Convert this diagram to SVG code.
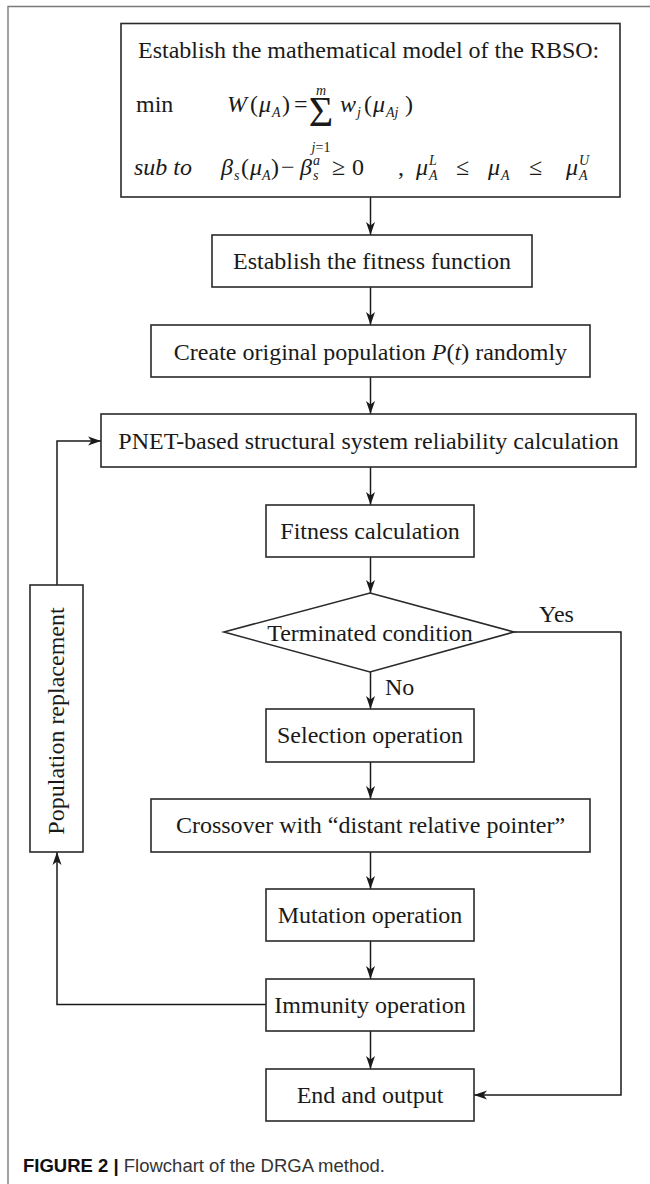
<svg xmlns="http://www.w3.org/2000/svg" width="650" height="1184" viewBox="0 0 650 1184">
  <defs>
    <marker id="arr" markerUnits="userSpaceOnUse" markerWidth="14" markerHeight="10" refX="13" refY="5" orient="auto">
      <path d="M0,0.5 L13,5 L0,9.5 L3.5,5 Z" fill="#1a1a1a"/>
    </marker>
  </defs>
  <style>
    .box { fill: #ffffff; stroke: #2a2a2a; stroke-width: 1.6; }
    .t { font-family: "Liberation Serif", "Times New Roman", serif; font-size: 24px; fill: #1a1a1a; }
    .c { text-anchor: middle; }
    .i { font-style: italic; }
    .s { font-size: 14px; }
    .conn { fill: none; stroke: #1a1a1a; stroke-width: 1.5; }
    .frame { fill: none; stroke: #7a7a7a; stroke-width: 1.4; }
    .cap { font-family: "Liberation Sans", Arial, sans-serif; font-size: 18.5px; }
  </style>
  <rect width="650" height="1184" fill="#ffffff"/>
  <path class="frame" d="M650,6.5 L8,6.5 L8,1184"/>

  <g id="connectors">
    <path class="conn" d="M370.5,197 L370.5,235" marker-end="url(#arr)"/>
    <path class="conn" d="M370.5,287 L370.5,325" marker-end="url(#arr)"/>
    <path class="conn" d="M370.5,377 L370.5,414" marker-end="url(#arr)"/>
    <path class="conn" d="M370.5,467 L370.5,505" marker-end="url(#arr)"/>
    <path class="conn" d="M370.5,557 L370.5,593" marker-end="url(#arr)"/>
    <path class="conn" d="M370.5,672 L370.5,709" marker-end="url(#arr)"/>
    <path class="conn" d="M370.5,762 L370.5,799" marker-end="url(#arr)"/>
    <path class="conn" d="M370.5,852 L370.5,889" marker-end="url(#arr)"/>
    <path class="conn" d="M370.5,941 L370.5,979" marker-end="url(#arr)"/>
    <path class="conn" d="M370.5,1031 L370.5,1069" marker-end="url(#arr)"/>
    <path class="conn" d="M514,632 L621,632 L621,1095 L474,1095" marker-end="url(#arr)"/>
    <path class="conn" d="M266,1004.5 L57,1004.5 L57,852" marker-end="url(#arr)"/>
    <path class="conn" d="M57,585 L57,441 L101,441" marker-end="url(#arr)"/>
    <text class="t" x="539" y="622">Yes</text>
    <text class="t" x="385" y="695">No</text>
  </g>

  <g id="model">
    <rect class="box" x="121" y="23.5" width="499" height="173.5"/>
    <text class="t" x="138" y="58">Establish the mathematical model of the RBSO:</text>
    <text class="t" x="136" y="112">min</text>
    <text class="t" y="112"><tspan class="i" x="227">W</tspan><tspan x="250">(</tspan><tspan class="i" x="259">μ</tspan><tspan class="i s" x="272" y="117">A</tspan><tspan x="282" y="112">)</tspan><tspan x="294">=</tspan></text>
    <text class="t c"><tspan x="321" y="126" style="font-size:42px">Σ</tspan><tspan class="i s" x="321" y="95">m</tspan><tspan class="s" x="321" y="152"><tspan class="i">j</tspan>=1</tspan></text>
    <text class="t" y="112"><tspan class="i" x="340">w</tspan><tspan class="i s" x="357" y="117">j</tspan><tspan x="364" y="112">(</tspan><tspan class="i" x="373">μ</tspan><tspan class="i s" x="386" y="117">Aj</tspan><tspan x="405" y="112">)</tspan></text>
    <text class="t i" x="134" y="175">sub to</text>
    <text class="t" y="175"><tspan class="i" x="221">β</tspan><tspan class="i s" x="234" y="180">s</tspan><tspan x="241" y="175">(</tspan><tspan class="i" x="250">μ</tspan><tspan class="i s" x="262" y="180">A</tspan><tspan x="271" y="175">)</tspan><tspan x="281">−</tspan><tspan class="i" x="300">β</tspan><tspan class="i s" x="313" y="180">s</tspan><tspan class="i s" x="313" y="165">a</tspan><tspan x="332" y="175">≥</tspan><tspan x="352">0</tspan><tspan x="398">,</tspan><tspan class="i" x="416">μ</tspan><tspan class="i s" x="429" y="165">L</tspan><tspan class="i s" x="429" y="180">A</tspan><tspan x="456" y="175">≤</tspan><tspan class="i" x="488">μ</tspan><tspan class="i s" x="501" y="180">A</tspan><tspan x="529" y="175">≤</tspan><tspan class="i" x="566">μ</tspan><tspan class="i s" x="579" y="165">U</tspan><tspan class="i s" x="579" y="180">A</tspan></text>
  </g>

  <g id="fitness-function">
    <rect class="box" x="212" y="235" width="320" height="52"/>
    <text class="t c" x="372" y="269">Establish the fitness function</text>
  </g>

  <g id="create-population">
    <rect class="box" x="151" y="325" width="439" height="52"/>
    <text class="t c" x="370.5" y="360">Create original population <tspan class="i">P</tspan>(<tspan class="i">t</tspan>) randomly</text>
  </g>

  <g id="pnet">
    <rect class="box" x="101" y="414" width="535" height="53"/>
    <text class="t c" x="368.5" y="449">PNET-based structural system reliability calculation</text>
  </g>

  <g id="fitness-calculation">
    <rect class="box" x="266" y="505" width="208" height="52"/>
    <text class="t c" x="370" y="539">Fitness calculation</text>
  </g>

  <g id="terminated">
    <polygon class="box" points="370,593 514,632 370,672 224,632"/>
    <text class="t c" x="370" y="641">Terminated condition</text>
  </g>

  <g id="selection">
    <rect class="box" x="266" y="709" width="208" height="53"/>
    <text class="t c" x="370" y="743">Selection operation</text>
  </g>

  <g id="crossover">
    <rect class="box" x="151" y="799" width="439" height="53"/>
    <text class="t c" x="370.5" y="833">Crossover with “distant relative pointer”</text>
  </g>

  <g id="mutation">
    <rect class="box" x="266" y="889" width="208" height="52"/>
    <text class="t c" x="370" y="923">Mutation operation</text>
  </g>

  <g id="immunity">
    <rect class="box" x="266" y="979" width="208" height="52"/>
    <text class="t c" x="370" y="1013">Immunity operation</text>
  </g>

  <g id="end">
    <rect class="box" x="266" y="1069" width="208" height="52"/>
    <text class="t c" x="370" y="1103">End and output</text>
  </g>

  <g id="population-replacement">
    <rect class="box" x="30" y="585" width="53" height="267"/>
    <text class="t c" transform="translate(64,721) rotate(-90)" x="0" y="0">Population replacement</text>
  </g>

  <g id="caption">
    <text class="cap" x="23" y="1172"><tspan font-weight="bold" fill="#111111">FIGURE 2 | </tspan><tspan fill="#333333">Flowchart of the DRGA method.</tspan></text>
  </g>
</svg>
